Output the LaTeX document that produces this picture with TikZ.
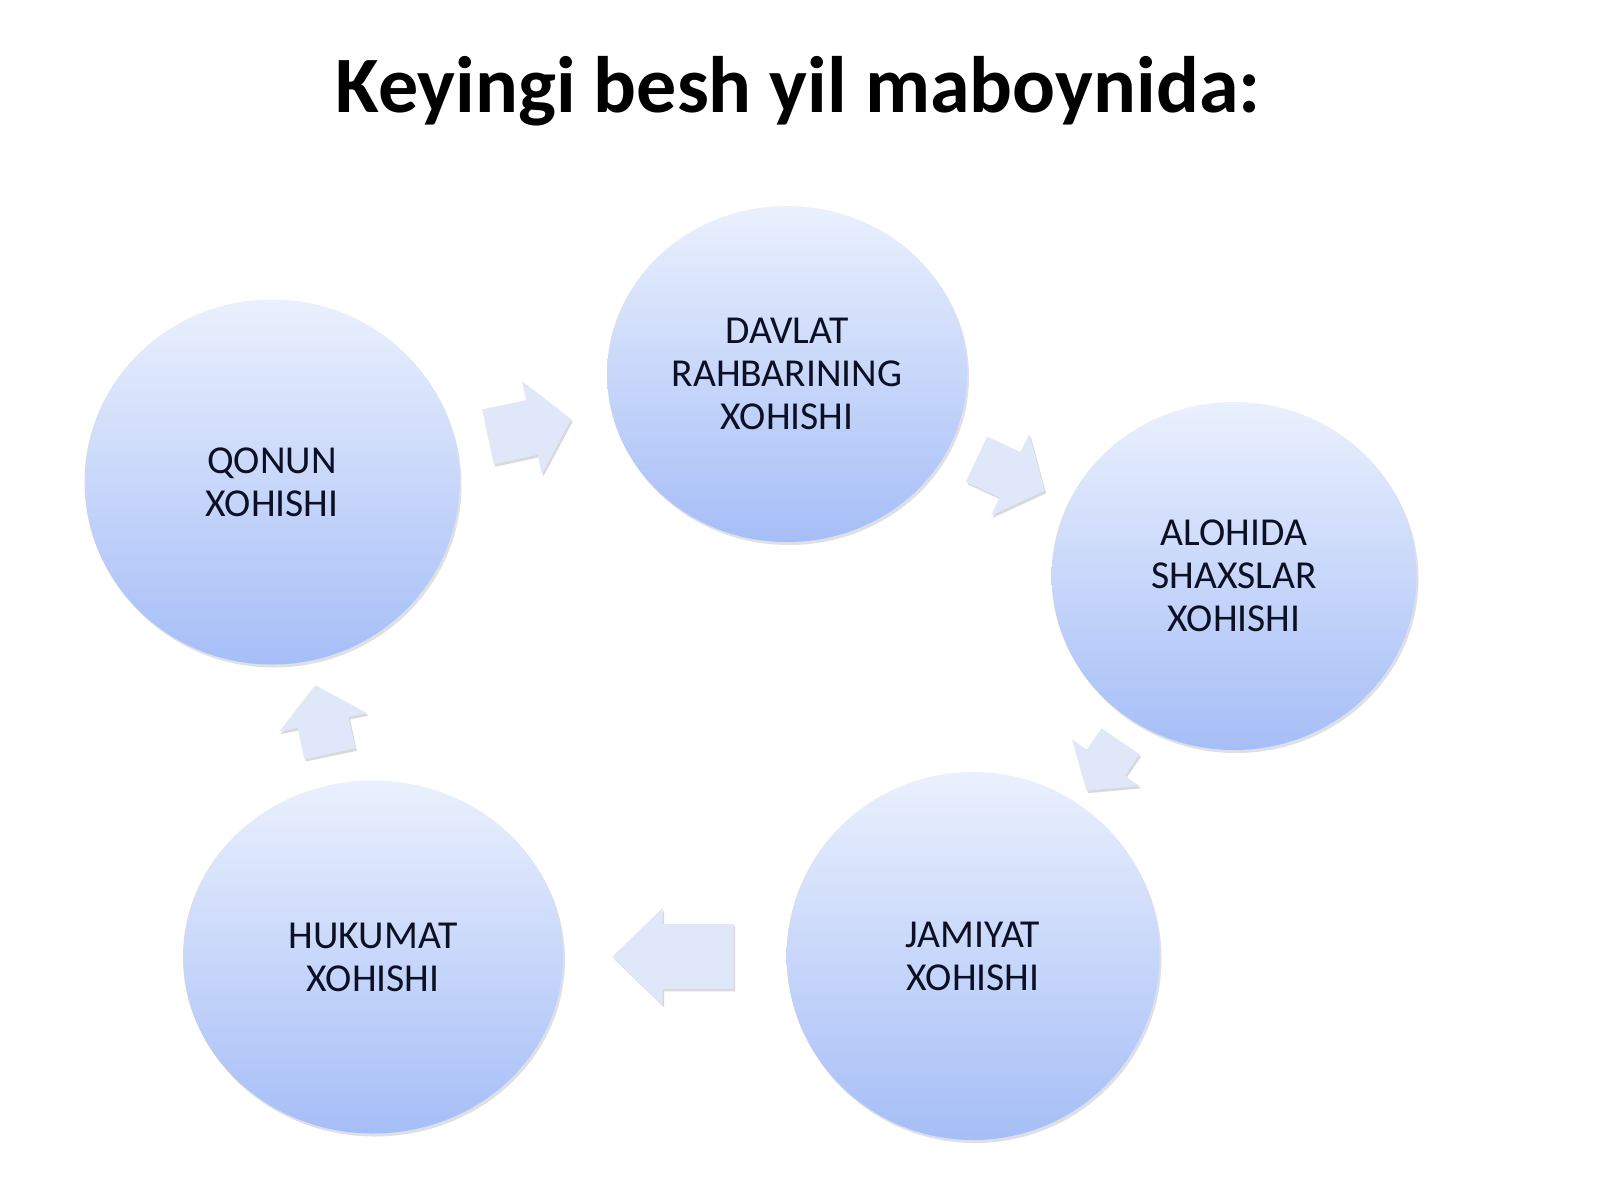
\documentclass[tikz,border=0pt]{standalone}
\usepackage{fontspec}
\setmainfont{Carlito}
\usetikzlibrary{shapes.geometric,calc,shadows}
\definecolor{circtop}{RGB}{234,240,253}
\definecolor{circbot}{RGB}{166,190,247}
\definecolor{arrfill}{RGB}{224,231,249}
\definecolor{txt}{RGB}{12,16,36}
\tikzset{
  bubble/.style={ellipse, inner sep=0pt, draw=none, top color=circtop, bottom color=circbot,
    text=txt, align=center, font=\fontsize{19.8}{21.5}\selectfont,
    drop shadow={shadow xshift=1pt, shadow yshift=-1.5pt, opacity=0.12, fill=black}},
  titletext/.style={font=\fontsize{40}{48}\selectfont\bfseries, text=black, inner sep=0pt},
  pics/cycarrow/.style args={#1/#2/#3/#4}{code={
    \fill[arrfill, drop shadow={shadow xshift=0.8pt, shadow yshift=-1.2pt, opacity=0.15, fill=black}]
      ({-#1/2},{-#3/2}) -- ({#1/2-#4},{-#3/2}) -- ({#1/2-#4},{-#2/2}) -- ({#1/2},0)
      -- ({#1/2-#4},{#2/2}) -- ({#1/2-#4},{#3/2}) -- ({-#1/2},{#3/2}) -- cycle;
  }}
}
\begin{document}
\begin{tikzpicture}[x=0.5pt,y=-0.5pt]
\useasboundingbox[fill=white] (0,0) rectangle (1600,1200);
\node[titletext, anchor=base] (title) at (798,112) {Keyingi besh yil maboynida:};
\node[bubble, minimum width=375*0.5pt, minimum height=365*0.5pt] (Q) at (272,482) {QONUN\\XOHISHI};
\node[bubble, minimum width=360*0.5pt, minimum height=336*0.5pt] (D) at (787,374) {DAVLAT\\RAHBARINING\\XOHISHI};
\node[bubble, minimum width=365*0.5pt, minimum height=348*0.5pt] (A) at (1234,576) {ALOHIDA\\SHAXSLAR\\XOHISHI};
\node[bubble, minimum width=373*0.5pt, minimum height=368*0.5pt] (J) at (973,956) {JAMIYAT\\XOHISHI};
\node[bubble, minimum width=380*0.5pt, minimum height=353*0.5pt] (H) at (373,957) {HUKUMAT\\XOHISHI};
\path ($(Q)!0.5!(D)$) pic[rotate=12] {cycarrow=85/95/56/40};
\path ($(D)!0.5!(A)$) pic[rotate=-25] {cycarrow=75/90/50/38};
\path ($(A)!0.5!(J)$) pic[rotate=-124.5] {cycarrow=60/82/46/34};
\path ($(J)!0.5!(H)$) pic[rotate=180] {cycarrow=121/97/65/50};
\path ($(H)!0.5!(Q)$) pic[rotate=102] {cycarrow=70/90/52/38};
\end{tikzpicture}
\end{document}
